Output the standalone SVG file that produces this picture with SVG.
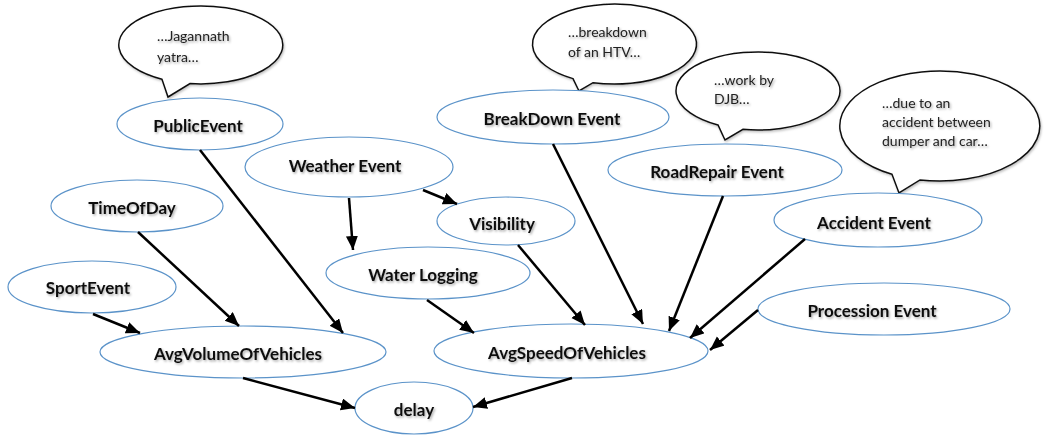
<svg xmlns="http://www.w3.org/2000/svg" width="1044" height="440" viewBox="0 0 1044 440">
<style>
.node ellipse{fill:#fff;stroke:#5b93c9;stroke-width:1.2}
.lbl{font-family:Lato,"Open Sans","Liberation Sans",sans-serif;font-weight:bold;font-size:17px;fill:#111;text-anchor:middle;dominant-baseline:central;filter:url(#sh)}
.bub path{fill:#fff;stroke:#111;stroke-width:1.5;filter:url(#bsh)}
.bt{font-family:Lato,"Open Sans","Liberation Sans",sans-serif;font-size:14px;fill:#222;filter:url(#sh)}
.edges line{stroke:#000;stroke-width:2.5;marker-end:url(#ah)}
</style>
<defs>
<filter id="sh" x="-10%" y="-30%" width="130%" height="180%"><feDropShadow dx="1.2" dy="1.5" stdDeviation="1" flood-color="#000" flood-opacity="0.35"/></filter>
<filter id="bsh" x="-10%" y="-10%" width="130%" height="130%"><feDropShadow dx="1" dy="1.5" stdDeviation="1.2" flood-color="#000" flood-opacity="0.25"/></filter>
<marker id="ah" markerUnits="userSpaceOnUse" markerWidth="16" markerHeight="14" refX="14" refY="6" orient="auto"><path d="M0,0 L14,6 L0,12 Z" fill="#000"/></marker>
</defs>
<rect width="1044" height="440" fill="#fff"/>

<g id="bubble-jagannath" class="bub">
<path d="M190,83.6 A82,39 0 1 0 162,79.3 L168,97 Z"/>
<text class="bt" x="157" y="41">…Jagannath</text>
<text class="bt" x="157" y="62">yatra…</text>
</g>
<g id="bubble-breakdown" class="bub">
<path d="M593,82.7 A82,40 0 1 0 573,78.6 L579,91 Z"/>
<text class="bt" x="568" y="37">…breakdown</text>
<text class="bt" x="568" y="57">of an HTV…</text>
</g>
<g id="bubble-djb" class="bub">
<path d="M743,129.3 A82,39 0 1 0 718,125 L725,140 Z"/>
<text class="bt" x="714" y="85">…work by</text>
<text class="bt" x="714" y="104">DJB…</text>
</g>
<g id="bubble-accident" class="bub">
<path d="M920,179.9 A100,55 0 1 0 892,174.3 L899,193 Z"/>
<text class="bt" x="882" y="108">…due to an</text>
<text class="bt" x="882" y="127">accident between</text>
<text class="bt" x="882" y="146">dumper and car…</text>
</g>

<g id="PublicEvent" class="node"><ellipse cx="200" cy="124" rx="83" ry="26"/><text class="lbl" x="198" y="125">PublicEvent</text></g>
<g id="WeatherEvent" class="node"><ellipse cx="349" cy="167" rx="104" ry="30"/><text class="lbl" x="345" y="165">Weather Event</text></g>
<g id="TimeOfDay" class="node"><ellipse cx="137" cy="206" rx="86" ry="26"/><text class="lbl" x="132" y="207">TimeOfDay</text></g>
<g id="SportEvent" class="node"><ellipse cx="92" cy="287" rx="84" ry="26"/><text class="lbl" x="88" y="287">SportEvent</text></g>
<g id="AvgVolumeOfVehicles" class="node"><ellipse cx="243" cy="352" rx="143" ry="26"/><text class="lbl" x="238" y="353">AvgVolumeOfVehicles</text></g>
<g id="delay" class="node"><ellipse cx="414" cy="408" rx="59" ry="26"/><text class="lbl" x="414" y="409">delay</text></g>
<g id="WaterLogging" class="node"><ellipse cx="428" cy="273" rx="102" ry="26"/><text class="lbl" x="423" y="274">Water Logging</text></g>
<g id="Visibility" class="node"><ellipse cx="506" cy="221" rx="69" ry="24"/><text class="lbl" x="502" y="223">Visibility</text></g>
<g id="AvgSpeedOfVehicles" class="node"><ellipse cx="571" cy="351" rx="137" ry="27"/><text class="lbl" x="567" y="352">AvgSpeedOfVehicles</text></g>
<g id="BreakDownEvent" class="node"><ellipse cx="553" cy="117" rx="116" ry="27"/><text class="lbl" x="552" y="118">BreakDown Event</text></g>
<g id="RoadRepairEvent" class="node"><ellipse cx="725" cy="170" rx="117" ry="26"/><text class="lbl" x="717" y="171">RoadRepair Event</text></g>
<g id="AccidentEvent" class="node"><ellipse cx="878" cy="220" rx="104" ry="27"/><text class="lbl" x="874" y="222">Accident Event</text></g>
<g id="ProcessionEvent" class="node"><ellipse cx="884" cy="309" rx="126" ry="26"/><text class="lbl" x="872" y="310">Procession Event</text></g>

<g id="connectors" class="edges">
<line x1="200" y1="150" x2="343" y2="333"/>
<line x1="138" y1="232" x2="239" y2="326"/>
<line x1="93" y1="314" x2="140" y2="333"/>
<line x1="243" y1="378" x2="355" y2="408"/>
<line x1="572" y1="378" x2="473" y2="407"/>
<line x1="349" y1="198" x2="353" y2="250"/>
<line x1="423" y1="190" x2="457" y2="204"/>
<line x1="427" y1="300" x2="474" y2="333"/>
<line x1="518" y1="245" x2="585" y2="325"/>
<line x1="553" y1="144" x2="643" y2="324"/>
<line x1="723" y1="196" x2="669" y2="331"/>
<line x1="805" y1="239" x2="690" y2="338"/>
<line x1="758" y1="310" x2="710" y2="350"/>
</g>
</svg>
